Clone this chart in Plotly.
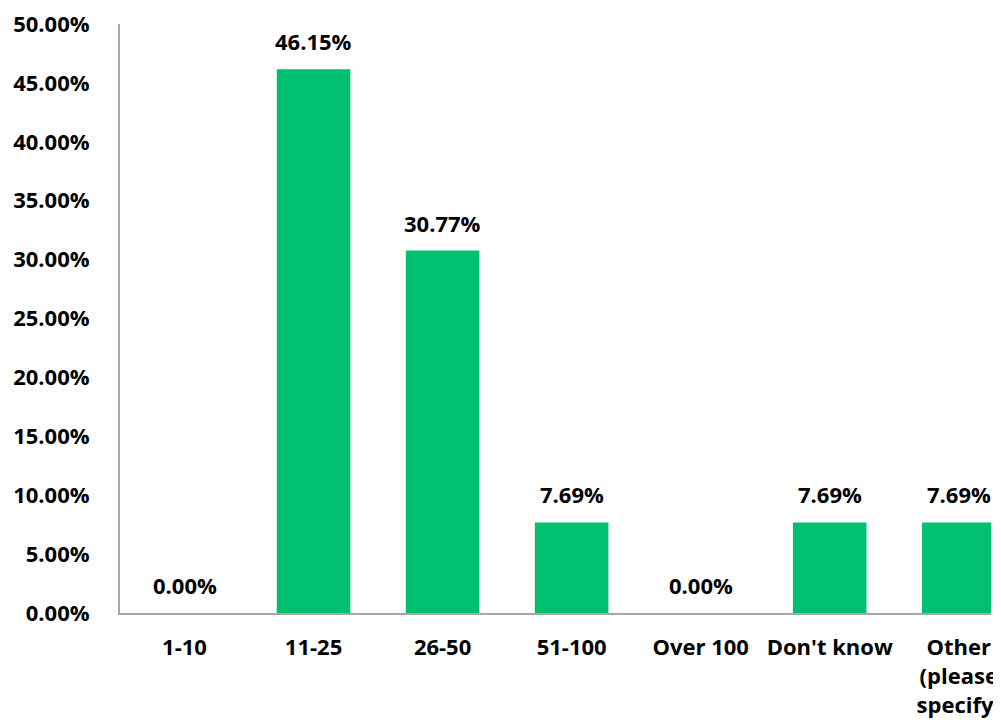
import plotly.graph_objects as go

categories = ["1-10", "11-25", "26-50", "51-100", "Over 100", "Don't know", "Other<br>(please<br>specify)"]
values = [0.00, 46.15, 30.77, 7.69, 0.00, 7.69, 7.69]
tick_vals = [0, 5, 10, 15, 20, 25, 30, 35, 40, 45, 50]
tick_text = [f"{v:.2f}%" for v in tick_vals]

FONT = "Open Sans"
FS = 22
GREEN = "#00BF6F"
GRAY = "#A6A6A6"

x_idx = list(range(len(categories)))

fig = go.Figure()
fig.add_trace(go.Bar(x=x_idx, y=values, marker=dict(color=GREEN, line=dict(width=0)),
                     hoverinfo="skip"))

for i, v in zip(x_idx, values):
    fig.add_annotation(x=i, y=v, text=f"{v:.2f}%", showarrow=False, yanchor="middle",
                       yshift=28, font=dict(family=FONT, size=FS, color="black", weight="bold"))

# page body has an 8px margin, so the figure is sized/offset to compensate
fig.update_layout(
    width=993, height=717,
    margin=dict(l=112, r=0, t=15, b=112),
    plot_bgcolor="white", paper_bgcolor="white",
    bargap=0.43,
    showlegend=False,
    font=dict(family=FONT, size=FS, color="black", weight="bold"),
)
fig.update_xaxes(range=[-0.5, 6.25], tickvals=x_idx, ticktext=categories,
                 showline=True, linecolor=GRAY, linewidth=2, showgrid=False,
                 ticks="", ticklabelstandoff=14, zeroline=False, ticklabeloverflow="allow",
                 tickfont=dict(family=FONT, size=FS, color="black", weight="bold"))
fig.update_yaxes(range=[0, 50], tickvals=tick_vals, ticktext=tick_text,
                 showline=True, linecolor=GRAY, linewidth=2, showgrid=False,
                 ticks="", ticklabelstandoff=24, zeroline=False, ticklabeloverflow="allow",
                 tickfont=dict(family=FONT, size=FS, color="black", weight="bold"))

fig.write_html("out.html")
